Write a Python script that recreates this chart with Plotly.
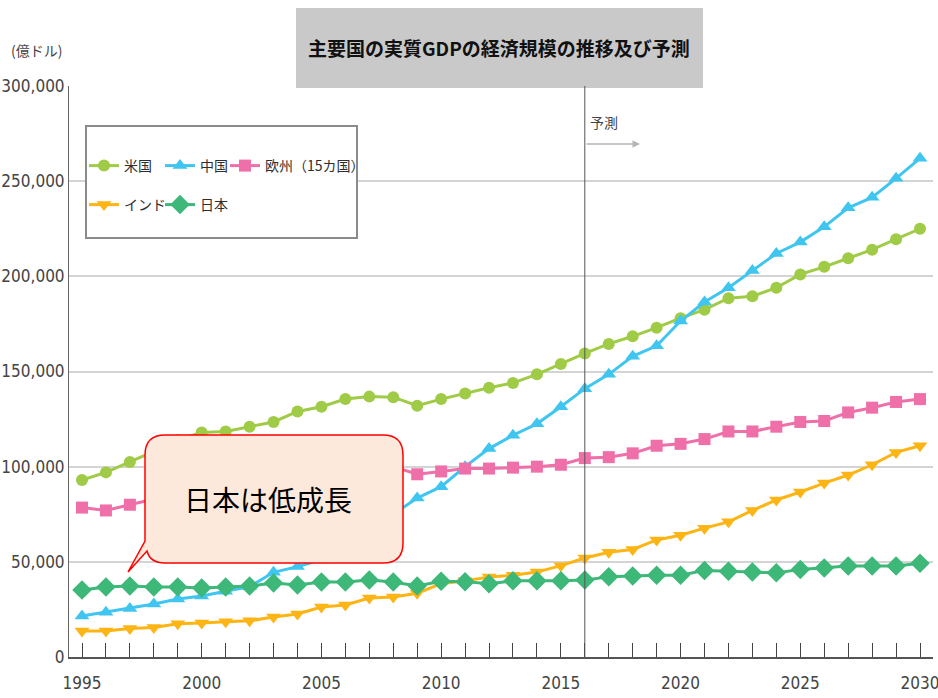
import plotly.graph_objects as go

# ---------------- data (億ドル) ----------------
years = list(range(1995, 2031))
names = ["米国", "中国", "欧州（15カ国）", "インド", "日本"]

us = [93000, 97000, 102500, 108000, 114000, 118000, 118500, 121000, 123500, 129000,
      131500, 135500, 136800, 136500, 132000, 135500, 138500, 141500, 144000, 148500,
      154000, 159500, 164500, 168500, 173000, 178000, 182500, 188500, 189500, 194000,
      201000, 205000, 209500, 214000, 219500, 225000]
china = [21500, 23500, 25500, 27800, 30500, 32000, 34500, 37000, 44500, 47500,
         51000, 58000, 66000, 75000, 83500, 89500, 100000, 109500, 116500, 122500,
         131500, 141000, 148500, 158000, 163500, 176500, 186500, 194000, 203000, 212000,
         218000, 226000, 236000, 241500, 251500, 262000]
europe = [78500, 77000, 80000, 83000, 86000, 89000, 91000, 92500, 94000, 96000,
          97500, 99000, 100500, 100000, 96000, 97500, 99000, 99000, 99500, 100000,
          101000, 104500, 105000, 107000, 111000, 112000, 114500, 118500, 118500, 121000,
          123500, 124000, 128500, 131000, 134000, 135500]
india = [13700, 13700, 15000, 15500, 17500, 17800, 18500, 19000, 21000, 22600,
         26300, 27300, 31000, 31500, 33500, 38500, 40000, 42000, 43000, 44600,
         48000, 52000, 55000, 56500, 61500, 64000, 67700, 71000, 77000, 82500,
         86700, 91400, 95600, 101000, 107500, 111000]
japan = [35200, 36800, 37300, 36800, 36800, 36200, 36800, 37300, 38900, 37800,
         39400, 39400, 40400, 39400, 37300, 39800, 39600, 38500, 40000, 40000,
         40000, 40400, 42200, 42500, 43000, 43000, 45500, 45000, 44600, 44200,
         46000, 46700, 47800, 47800, 47800, 49200]

y_ticks = [0, 50000, 100000, 150000, 200000, 250000, 300000]
x_ticks = [1995, 2000, 2005, 2010, 2015, 2020, 2025, 2030]
forecast_start = 2016

title_text = "主要国の実質GDPの経済規模の推移及び予測"
unit_text = "(億ドル)"
forecast_text = "予測"
callout_text = "日本は低成長"

# ---------------- styling ----------------
colors = ["#9fcb47", "#3fc5f0", "#ef6fa9", "#fdb515", "#3db878"]
symbols = ["circle", "triangle-up", "square", "triangle-down", "diamond"]
msizes = [12, 13, 12, 13, 15]
series = [us, china, europe, india, japan]

WIDTH, HEIGHT = 938, 698
L, R, T, B = 69, 5, 86, 41
PW = WIDTH - L - R
PH = HEIGHT - T - B


def px(x):
    return (x - L) / PW


def py(y):
    return (HEIGHT - B - y) / PH


NUM_FONT = "Liberation Sans Narrow, DejaVu Sans Condensed, Arial Narrow, sans-serif"
JP_FONT = "Noto Sans CJK JP, sans-serif"

fig = go.Figure()
legend_ids = ["legend", "legend2", "legend3", "legend4", "legend5"]
for name, vals, c, s, ms, lg in zip(names, series, colors, symbols, msizes, legend_ids):
    fig.add_trace(go.Scatter(
        x=years, y=vals, name=name, mode="lines+markers",
        line=dict(color=c, width=3),
        marker=dict(symbol=s, size=ms, color=c),
        legend=lg,
    ))

leg_pos = [(84, 166), (160, 166), (225, 166), (84, 205), (160, 205)]
legends = {}
for lg, (lx, ly) in zip(legend_ids, leg_pos):
    legends[lg] = dict(
        x=px(lx), y=py(ly), xanchor="left", yanchor="middle",
        bgcolor="rgba(0,0,0,0)", borderwidth=0, itemwidth=30,
        font=dict(family=JP_FONT, size=14, color="#2e2e2e"),
    )

fig.update_layout(
    width=WIDTH, height=HEIGHT, autosize=False,
    margin=dict(l=L, r=R, t=T, b=B, pad=0, autoexpand=False),
    paper_bgcolor="white", plot_bgcolor="white",
    showlegend=True,
    **legends,
)

fig.update_xaxes(
    range=[1995 - 13 / 23.943, 2030 + 13 / 23.943],
    tickmode="array", tickvals=x_ticks, ticktext=[str(v) for v in x_ticks],
    ticks="inside", ticklen=14, tickwidth=1, tickcolor="#444444",
    minor=dict(ticks="inside", ticklen=14, tickwidth=1, tickcolor="#444444",
               tickmode="array", tickvals=years, showgrid=False),
    showline=True, linecolor="#555555", linewidth=2,
    showgrid=False, zeroline=False, automargin=False,
    ticklabelstandoff=10, ticklabeloverflow="allow",
    tickfont=dict(family=NUM_FONT, size=17, color="#444444"),
)
fig.update_yaxes(
    range=[0, 300000], tickmode="array", tickvals=y_ticks,
    tickformat=",", ticks="",
    showgrid=True, gridcolor="#d4d4d4", gridwidth=2,
    showline=True, linecolor="#666666", linewidth=1,
    zeroline=False, automargin=False,
    tickfont=dict(family=NUM_FONT, size=17, color="#444444"),
)


def P(x, y):
    return f"{px(x):.5f},{py(y):.5f}"


callout_path = (
    f"M {P(165,435)} L {P(383,435)} Q {P(403,435)} {P(403,455)} "
    f"L {P(403,543)} Q {P(403,563)} {P(383,563)} L {P(165,563)} "
    f"Q {P(150,563)} {P(147,551)} L {P(128,572)} L {P(145,541)} "
    f"L {P(145,455)} Q {P(145,435)} {P(165,435)} Z"
)

fig.update_layout(shapes=[
    dict(type="rect", xref="paper", yref="paper", x0=px(296), x1=px(703),
         y0=py(88), y1=py(8), fillcolor="#c9c9c9", line=dict(width=0), layer="above"),
    dict(type="rect", xref="paper", yref="paper", x0=px(86), x1=px(357),
         y0=py(238), y1=py(126), fillcolor="white",
         line=dict(color="#8a8a8a", width=2), layer="above"),
    dict(type="line", xref="x", yref="paper", x0=forecast_start, x1=forecast_start,
         y0=0, y1=1, line=dict(color="#555555", width=1), layer="above"),
    dict(type="path", xref="paper", yref="paper", path=callout_path,
         fillcolor="#fde9db", line=dict(color="#ff0000", width=1.5), layer="above"),
])

fig.update_layout(annotations=[
    dict(text=f"<b>{title_text}</b>", xref="paper", yref="paper",
         x=px(499), y=py(48), xanchor="center", yanchor="middle", showarrow=False,
         font=dict(family=JP_FONT, size=19, color="#111111")),
    dict(text=unit_text, xref="paper", yref="paper",
         x=px(36), y=py(50), xanchor="center", yanchor="middle", showarrow=False,
         font=dict(family=JP_FONT, size=14, color="#444444")),
    dict(text=forecast_text, xref="paper", yref="paper",
         x=px(604), y=py(122), xanchor="center", yanchor="middle", showarrow=False,
         font=dict(family=JP_FONT, size=14, color="#444444")),
    dict(text="", xref="paper", yref="paper", x=px(640), y=py(144),
         ax=-55, ay=0, showarrow=True, arrowhead=2, arrowsize=1,
         arrowwidth=1.5, arrowcolor="#b5b5b5"),
    dict(text=callout_text, xref="paper", yref="paper",
         x=px(268), y=py(499), xanchor="center", yanchor="middle", showarrow=False,
         font=dict(family=JP_FONT, size=28, color="#000000")),
])

fig.write_html("out.html")
